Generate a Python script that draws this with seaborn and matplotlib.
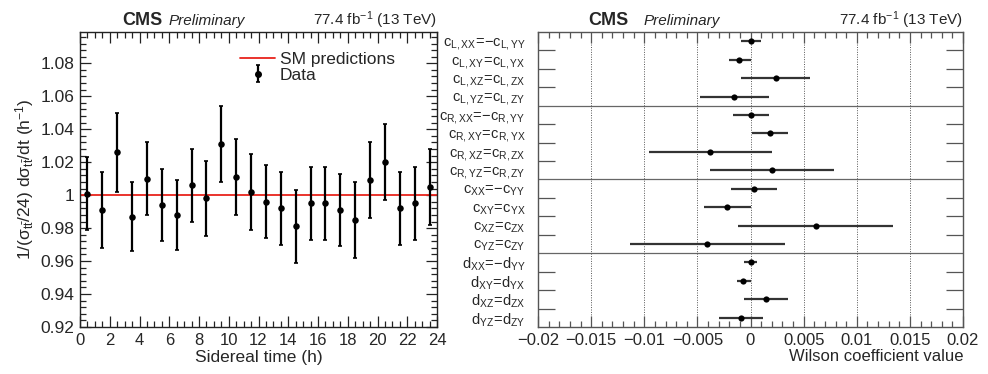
import numpy as np
import pandas as pd
import matplotlib
matplotlib.use("Agg")
import matplotlib.pyplot as plt
import seaborn as sns
from matplotlib.lines import Line2D
from matplotlib.legend_handler import HandlerTuple
from matplotlib.ticker import MultipleLocator, FixedLocator, FuncFormatter

# ---------------- data ----------------
sidereal_hours = [0.5, 1.5, 2.5, 3.5, 4.5, 5.5, 6.5, 7.5, 8.5, 9.5, 10.5, 11.5,
                  12.5, 13.5, 14.5, 15.5, 16.5, 17.5, 18.5, 19.5, 20.5, 21.5, 22.5, 23.5]
norm_xsec = [1.001, 0.991, 1.026, 0.987, 1.010, 0.994, 0.988, 1.006, 0.998, 1.031, 1.011, 1.002,
             0.996, 0.992, 0.981, 0.995, 0.995, 0.991, 0.985, 1.009, 1.020, 0.992, 0.995, 1.005]
norm_xsec_err = [0.022, 0.023, 0.024, 0.021, 0.022, 0.022, 0.021, 0.022, 0.023, 0.023, 0.023, 0.023,
                 0.022, 0.022, 0.022, 0.022, 0.022, 0.022, 0.023, 0.023, 0.023, 0.022, 0.022, 0.023]
sm_prediction = 1.0

coef_labels = [
    r"$c_{L,XX}\!=\!{-}c_{L,YY}$", r"$c_{L,XY}\!=\!c_{L,YX}$", r"$c_{L,XZ}\!=\!c_{L,ZX}$", r"$c_{L,YZ}\!=\!c_{L,ZY}$",
    r"$c_{R,XX}\!=\!{-}c_{R,YY}$", r"$c_{R,XY}\!=\!c_{R,YX}$", r"$c_{R,XZ}\!=\!c_{R,ZX}$", r"$c_{R,YZ}\!=\!c_{R,ZY}$",
    r"$c_{XX}\!=\!{-}c_{YY}$", r"$c_{XY}\!=\!c_{YX}$", r"$c_{XZ}\!=\!c_{ZX}$", r"$c_{YZ}\!=\!c_{ZY}$",
    r"$d_{XX}\!=\!{-}d_{YY}$", r"$d_{XY}\!=\!d_{YX}$", r"$d_{XZ}\!=\!d_{ZX}$", r"$d_{YZ}\!=\!d_{ZY}$",
]
coef_value = [0.0000, -0.00105, 0.00237, -0.00152,
              0.0000, 0.00184, -0.00384, 0.00205,
              0.00033, -0.00218, 0.00613, -0.00406,
              0.0000, -0.0007, 0.00143, -0.0009]
coef_low = [-0.0009, -0.0020, -0.0009, -0.00472,
            -0.00168, 0.00014, -0.0096, -0.00378,
            -0.00186, -0.00437, -0.00115, -0.0113,
            -0.00058, -0.00127, -0.0006, -0.00296]
coef_high = [0.00096, 0.0000, 0.0056, 0.00177,
             0.00174, 0.00353, 0.0020, 0.00789,
             0.00252, 0.0000, 0.0134, 0.00322,
             0.00058, 0.0000, 0.00353, 0.0012]
group_size = 4

# ---------------- style ----------------
sns.set_theme(style="ticks")
plt.rcParams["font.family"] = ["Liberation Sans", "DejaVu Sans"]
plt.rcParams["mathtext.fontset"] = "custom"
plt.rcParams["mathtext.rm"] = "Liberation Sans"
plt.rcParams["mathtext.it"] = "Liberation Sans:italic"
plt.rcParams["mathtext.bf"] = "Liberation Sans:bold"
plt.rcParams["mathtext.default"] = "regular"

W, H = 988, 374
fig = plt.figure(figsize=(W / 100, H / 100), dpi=100)
axL = fig.add_axes([80 / W, (H - 327) / H, 357 / W, 295 / H])
axR = fig.add_axes([538 / W, (H - 327) / H, 425 / W, 295 / H])

# ---------------- left panel ----------------
dfL = pd.DataFrame({"t": sidereal_hours, "y": norm_xsec, "e": norm_xsec_err})
sm_line = axL.axhline(sm_prediction, color="#e8231b", lw=1.3, zorder=2)
eb = axL.errorbar(dfL["t"], dfL["y"], yerr=dfL["e"], fmt="none", ecolor="black",
                  elinewidth=1.6, capsize=1.5, capthick=1.2, zorder=3)
sns.scatterplot(data=dfL, x="t", y="y", ax=axL, color="black", s=22,
                edgecolor="black", linewidth=0, zorder=4, legend=False)
axL.set_xlim(0, 24)
axL.set_ylim(0.92, 1.099)
axL.xaxis.set_major_locator(MultipleLocator(2))
axL.xaxis.set_minor_locator(MultipleLocator(0.5))
axL.yaxis.set_major_locator(MultipleLocator(0.02))
axL.yaxis.set_minor_locator(MultipleLocator(0.004))
axL.yaxis.set_major_formatter(FuncFormatter(lambda v, p: "1" if abs(v - 1) < 1e-9 else f"{v:.2f}"))
axL.tick_params(which="both", direction="in", top=True, right=True, color="#222222")
axL.tick_params(which="major", length=8, width=0.9)
axL.tick_params(which="minor", length=4, width=0.9)
axL.tick_params(axis="y", labelsize=12.5, pad=4)
axL.tick_params(axis="x", labelsize=12, pad=4)
axL.set_xlabel("Sidereal time (h)", fontsize=12.5, labelpad=2)
axL.set_ylabel(r"1/(σ$_{t\bar{t}}$/24) dσ$_{t\bar{t}}$/dt (h$^{-1}$)", fontsize=12.5, labelpad=3)
for s in axL.spines.values():
    s.set_color("#222222")
    s.set_linewidth(1.0)

data_marker = Line2D([0], [0], color="black", marker="o", markersize=4, linestyle="none")
leg = axL.legend([sm_line, (eb, data_marker)], ["SM predictions", "Data"], loc="upper left",
                 bbox_to_anchor=(0.43, 0.955), frameon=False, fontsize=12.5,
                 handlelength=2.0, handletextpad=0.25, labelspacing=0.02, borderaxespad=0,
                 handler_map={tuple: HandlerTuple(ndivide=1)})

axL.text(0.118, 1.024, "CMS", transform=axL.transAxes, fontsize=13, fontweight="bold",
         va="baseline", ha="left")
axL.text(0.249, 1.024, "Preliminary", transform=axL.transAxes, fontsize=11, style="italic",
         va="baseline", ha="left")
axL.text(1.0, 1.024, r"77.4 fb$^{-1}$ (13 TeV)", transform=axL.transAxes, fontsize=11,
         va="baseline", ha="right")

# ---------------- right panel ----------------
rows = np.arange(len(coef_labels))
dfR = pd.DataFrame({"row": rows, "val": coef_value, "lo": coef_low, "hi": coef_high})
axR.hlines(dfR["row"], dfR["lo"], dfR["hi"], color="#333333", lw=1.6, zorder=3)
sns.scatterplot(data=dfR, x="val", y="row", ax=axR, color="black", s=20,
                linewidth=0, zorder=4, legend=False)
for b in range(group_size, len(coef_labels), group_size):
    axR.axhline(b - 0.5, color="#666666", lw=0.9, zorder=1)
for xv in [-0.015, -0.01, -0.005, 0, 0.005, 0.01, 0.015]:
    axR.axvline(xv, color="#555555", lw=0.7, ls=(0, (1, 1.5)), zorder=1)
axR.set_xlim(-0.02, 0.02)
axR.set_ylim(len(coef_labels) - 0.5, -0.5)
axR.xaxis.set_major_locator(MultipleLocator(0.005))
axR.xaxis.set_minor_locator(MultipleLocator(0.001))

def fmt_x(v, p):
    if abs(v) < 1e-12:
        return "0"
    s = f"{abs(v):.3f}".rstrip("0")
    return ("\u2212" if v < 0 else "") + s

axR.xaxis.set_major_formatter(FuncFormatter(fmt_x))
axR.yaxis.set_major_locator(FixedLocator(rows))
axR.set_yticklabels(coef_labels)
bounds = [r + 0.5 for r in rows[:-1] if (r + 1) % group_size != 0]
axR.yaxis.set_minor_locator(FixedLocator(bounds))
axR.tick_params(axis="y", which="major", length=0, labelsize=10.5, pad=9)
axR.tick_params(axis="y", which="minor", length=12, width=0.9, direction="in",
                left=True, right=True, color="#555555")
axR.tick_params(axis="x", which="both", direction="in", top=True, bottom=True, color="#555555")
axR.tick_params(axis="x", which="major", length=8, width=0.9, labelsize=12, pad=4)
axR.tick_params(axis="x", which="minor", length=4, width=0.9)
axR.set_xlabel("Wilson coefficient value", fontsize=12, loc="right", labelpad=1)
axR.set_ylabel("")
for s in axR.spines.values():
    s.set_color("#555555")
    s.set_linewidth(1.0)

axR.text(0.118, 1.024, "CMS", transform=axR.transAxes, fontsize=13, fontweight="bold",
         va="baseline", ha="left")
axR.text(0.249, 1.024, "Preliminary", transform=axR.transAxes, fontsize=11, style="italic",
         va="baseline", ha="left")
axR.text(1.0, 1.024, r"77.4 fb$^{-1}$ (13 TeV)", transform=axR.transAxes, fontsize=11,
         va="baseline", ha="right")

fig.savefig("out.png", dpi=100)
